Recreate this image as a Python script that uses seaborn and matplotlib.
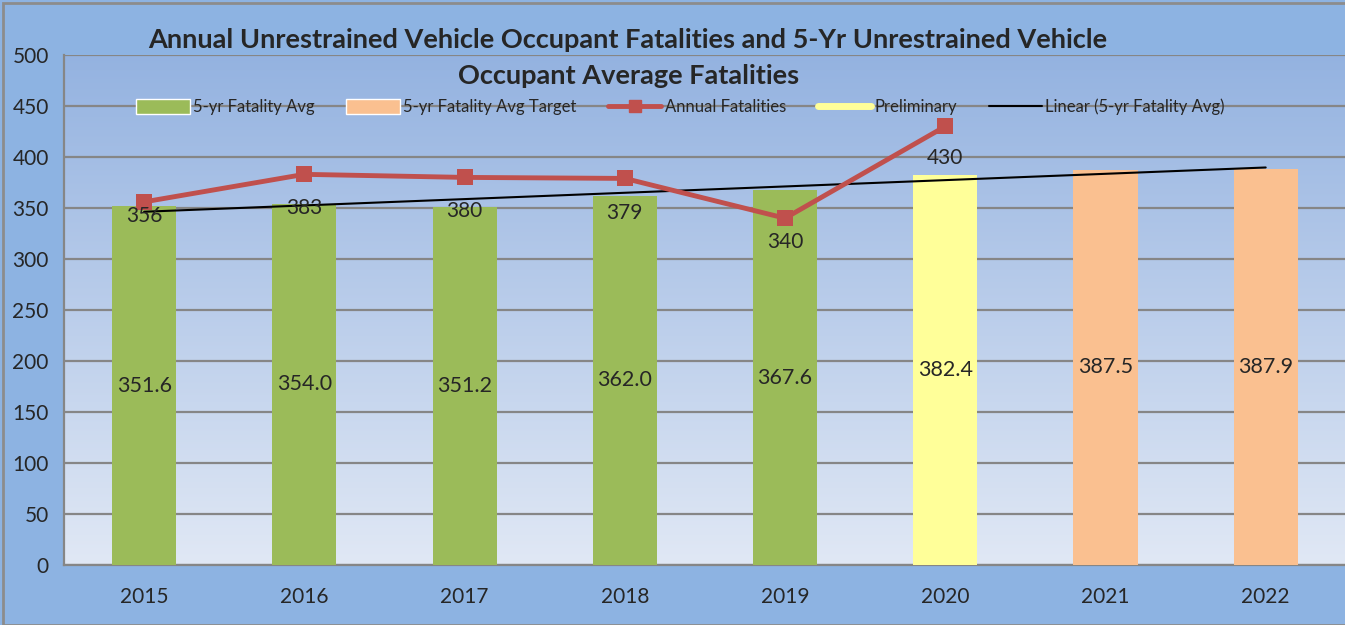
import numpy as np
import pandas as pd
import seaborn as sns
import matplotlib.pyplot as plt
from matplotlib.patches import Patch, Rectangle
from matplotlib.lines import Line2D

years = ['2015', '2016', '2017', '2018', '2019', '2020', '2021', '2022']
avg_5yr = [351.6, 354.0, 351.2, 362.0, 367.6, 382.4, 387.5, 387.9]
bar_type = ['5-yr Fatality Avg'] * 5 + ['Preliminary'] + ['5-yr Fatality Avg Target'] * 2
annual = [356, 383, 380, 379, 340, 430]
# vertical offset (points) of each annual label below its marker
annual_label_dy = [-10, -24, -24, -25, -17, -23]

colors = {'5-yr Fatality Avg': '#9BBB59',
          'Preliminary': '#FFFF99',
          '5-yr Fatality Avg Target': '#FAC090'}

df = pd.DataFrame({'year': years, 'avg': avg_5yr, 'kind': bar_type})

sns.set_style('white')
plt.rcParams['font.family'] = ['Lato', 'DejaVu Sans']

fig = plt.figure(figsize=(13.45, 6.25), dpi=100)
fig.patch.set_facecolor('#8DB3E2')
fig.patches.append(Rectangle((0.002, 0.0), 1.0, 0.995, transform=fig.transFigure,
                             fill=False, edgecolor='#8C8C8C', linewidth=2))
ax = fig.add_axes([0.0476, 0.096, 0.953, 0.816])

# gradient plot area
grad = np.linspace(0, 1, 256).reshape(-1, 1)
top = np.array([0.58, 0.70, 0.88])
bot = np.array([0.88, 0.91, 0.96])
img = top + (bot - top) * grad[:, :, None] * np.ones((1, 1, 3))
ax.imshow(img, extent=[0, 1, 0, 1], transform=ax.transAxes, aspect='auto', zorder=0)

sns.barplot(data=df, x='year', y='avg', hue='kind', palette=colors, dodge=False,
            width=0.4, ax=ax, legend=False, zorder=3, saturation=1, linewidth=0)

for i, v in enumerate(avg_5yr):
    ax.text(i, v / 2, f'{v:.1f}', ha='center', va='center', fontsize=15.5, zorder=6)

# linear trend of the 5-yr average
xi = np.arange(len(avg_5yr))
slope, icpt = np.polyfit(xi, avg_5yr, 1)
ax.plot(xi, slope * xi + icpt, color='black', linewidth=1.5, zorder=4)

sns.lineplot(x=np.arange(len(annual)), y=annual, color='#C0504D', linewidth=3.5,
             marker='s', markersize=11.5, markeredgewidth=0, ax=ax, zorder=5)
for i, (v, dy) in enumerate(zip(annual, annual_label_dy)):
    ax.annotate(str(v), (i, v), xytext=(0, dy), textcoords='offset points',
                ha='center', va='center', fontsize=15, zorder=6)

ax.set_ylim(0, 500)
ax.set_xlim(-0.5, 7.5)
ax.set_yticks(range(0, 501, 50))
ax.yaxis.grid(True, color='#868686', linewidth=1.6, zorder=1)
ax.set_axisbelow(True)
ax.set_xlabel('')
ax.set_ylabel('')
ax.set_xticks(np.arange(-0.5, 7.6, 1), minor=False)
ax.set_xticklabels([])
ax.set_xticks(range(8), minor=True)
ax.set_xticklabels(years, minor=True, fontsize=15)
ax.tick_params(axis='x', which='major', length=6, width=1.5, color='#868686', direction='out')
ax.tick_params(axis='x', which='minor', length=0, pad=16)
ax.tick_params(axis='y', length=6, width=1.5, color='#868686', labelsize=15, pad=5)
for s in ['top', 'right']:
    ax.spines[s].set_visible(False)
for s in ['left', 'bottom']:
    ax.spines[s].set_color('#868686')
    ax.spines[s].set_linewidth(1.6)

handles = [
    Patch(facecolor=colors['5-yr Fatality Avg'], label='5-yr Fatality Avg'),
    Patch(facecolor=colors['5-yr Fatality Avg Target'], label='5-yr Fatality Avg Target'),
    Line2D([], [], color='#C0504D', linewidth=3.5, marker='s', markersize=9, label='Annual Fatalities'),
    Line2D([], [], color='#FFFF99', linewidth=5, label='Preliminary'),
    Line2D([], [], color='black', linewidth=1.5, label='Linear (5-yr Fatality Avg)'),
]
ax.legend(handles=handles, ncol=5, loc='center', bbox_to_anchor=(0.481, 0.898),
          frameon=False, fontsize=12, handlelength=3.2, handleheight=1.0,
          handletextpad=0.2, columnspacing=1.9)

fig.text(0.467, 0.936, 'Annual Unrestrained Vehicle Occupant Fatalities and 5-Yr Unrestrained Vehicle',
         ha='center', va='center', fontsize=19.5, fontweight='bold')
fig.text(0.467, 0.878, 'Occupant Average Fatalities',
         ha='center', va='center', fontsize=19.5, fontweight='bold')

fig.savefig('out.png', dpi=100)
